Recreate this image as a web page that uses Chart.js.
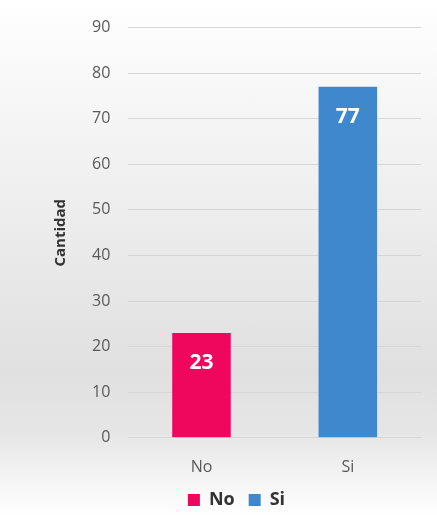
<!DOCTYPE html>
<html>
<head>
<meta charset="utf-8">
<script src="https://cdn.jsdelivr.net/npm/chart.js@4"></script>
<style>
  html, body { margin: 0; padding: 0; }
  body {
    width: 437px; height: 516px;
    background: linear-gradient(to bottom, #ffffff 0%, #f4f4f4 25%, #e0e0e0 72%, #e6e6e6 84%, #ffffff 100%);
  }
  #wrap { width: 437px; height: 516px; position: relative; }
</style>
</head>
<body>
<div id="wrap"><canvas id="chart"></canvas></div>
<script>
const categories = ['No', 'Si'];
const values = [23, 77];
const barColors = ['#EF075E', '#3F88CE'];
const yTicks = [0, 10, 20, 30, 40, 50, 60, 70, 80, 90];

// white value labels inside the top of each bar
const valueLabels = {
  id: 'valueLabels',
  afterDatasetsDraw(chart) {
    const ctx = chart.ctx;
    const meta = chart.getDatasetMeta(0);
    ctx.save();
    ctx.fillStyle = '#ffffff';
    ctx.font = 'bold 21px "Open Sans", sans-serif';
    ctx.textAlign = 'center';
    ctx.textBaseline = 'middle';
    meta.data.forEach((bar, i) => {
      ctx.fillText(values[i], bar.x, bar.y + 30);
    });
    ctx.restore();
  }
};

new Chart(document.getElementById('chart'), {
  type: 'bar',
  data: {
    labels: categories,
    datasets: [{
      data: values,
      backgroundColor: barColors,
      borderWidth: 0,
      barPercentage: 0.4,
      categoryPercentage: 1.0
    }]
  },
  options: {
    responsive: true,
    maintainAspectRatio: false,
    animation: false,
    layout: { padding: { left: 52, right: 16, top: 12, bottom: -3 } },
    plugins: {
      legend: {
        position: 'bottom',
        labels: {
          generateLabels: () => categories.map((c, i) => ({
            text: c, fillStyle: barColors[i], strokeStyle: barColors[i], lineWidth: 0, fontColor: '#333333'
          })),
          boxWidth: 12, boxHeight: 12, padding: 14,
          color: '#333333',
          font: { family: '"Open Sans", sans-serif', size: 18, weight: 'bold' }
        }
      },
      tooltip: { enabled: false }
    },
    scales: {
      x: {
        grid: { display: false },
        border: { display: false },
        ticks: { color: '#595959', padding: 12, font: { family: '"Open Sans", sans-serif', size: 16 } },
        afterFit: (axis) => { axis.height -= 12; }
      },
      y: {
        min: 0, max: 90,
        afterBuildTicks: (axis) => { axis.ticks = yTicks.map(v => ({ value: v })); },
        grid: { color: '#d6d6d6', drawTicks: false },
        border: { display: false },
        ticks: { color: '#595959', padding: 18, font: { family: '"Open Sans", sans-serif', size: 16 } },
        title: {
          display: true, text: 'Cantidad', color: '#333333',
          padding: { top: 0, bottom: 4 },
          font: { family: '"Open Sans", sans-serif', size: 15, weight: 'bold' }
        }
      }
    }
  },
  plugins: [valueLabels]
});
</script>
</body>
</html>
